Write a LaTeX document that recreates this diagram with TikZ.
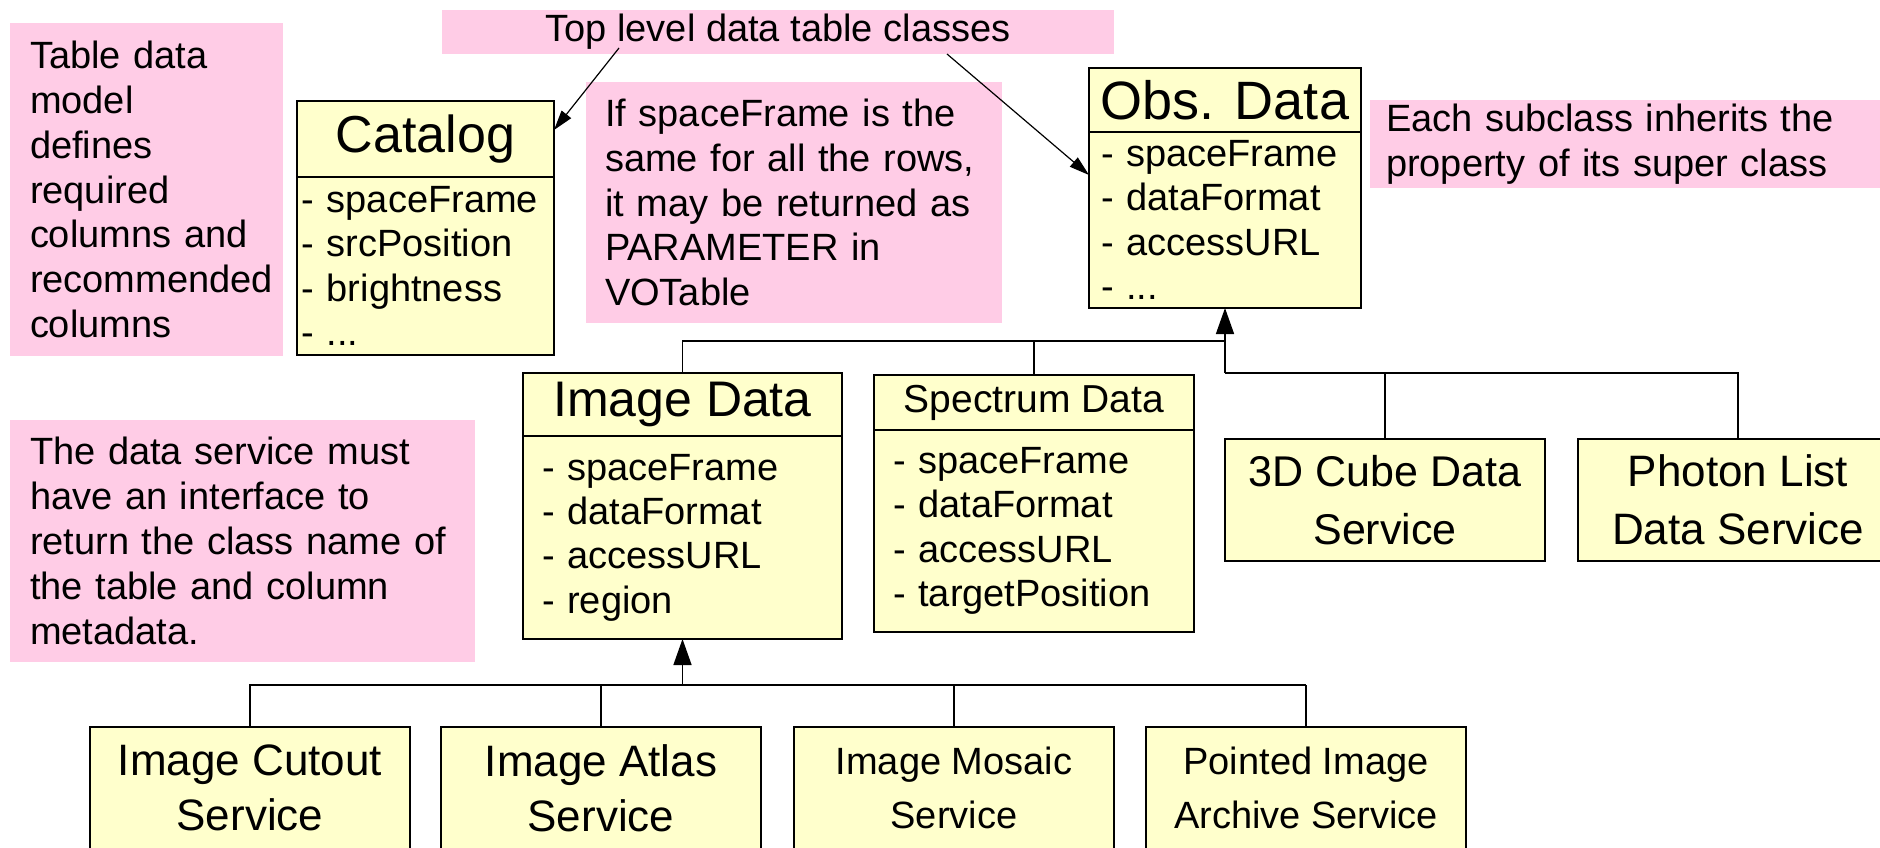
\documentclass[tikz,border=0pt]{standalone}
\usepackage{fontspec}
\setmainfont{Liberation Sans}
\usetikzlibrary{positioning,arrows.meta}

\definecolor{notepink}{RGB}{255,204,230}
\definecolor{classyellow}{RGB}{255,255,204}

\begin{document}
\begin{tikzpicture}[x=0.5pt,y=-0.5pt,>={Triangle[length=13pt,width=9pt]},
  note/.style={fill=notepink,anchor=north west,inner ysep=0pt,outer sep=0pt,align=left,font=\fontsize{19}{22.4}\selectfont},
  head/.style={draw,line width=0.9pt,fill=classyellow,anchor=north west,inner sep=0pt,outer sep=0pt,align=center},
  body/.style={draw,line width=0.9pt,fill=classyellow,inner ysep=0pt,outer sep=0pt,align=left,font=\fontsize{19}{22.2}\selectfont},
  service/.style={draw,line width=0.9pt,fill=classyellow,anchor=north west,inner sep=0pt,outer sep=0pt,align=center,minimum width=160pt,minimum height=61pt},
  link/.style={line width=0.75pt},
  pointer/.style={line width=0.6pt,-{Triangle[length=10pt,width=6pt]}}]
  \useasboundingbox (0,0) rectangle (1880,847);

  % notes
  \node[note,text width=116.5pt,inner xsep=10pt,minimum height=166.5pt] (model) at (10,23)
    {Table data\\model\\defines\\required\\columns and\\recommended\\columns};
  \node[note,align=center,inner sep=0pt,minimum width=336pt,minimum height=22pt] (toplevel) at (442,10)
    {Top level data table classes};
  \node[note,text width=189pt,inner xsep=9.5pt,minimum height=120.5pt] (param) at (586,82)
    {If spaceFrame is the\\same for all the rows,\\it may be returned as\\PARAMETER in\\VOTable};
  \node[note,text width=247pt,inner xsep=8pt,minimum height=44pt] (inherit) at (1370,100)
    {Each subclass inherits the\\property of its super class};
  \node[note,text width=212.5pt,inner xsep=10pt,minimum height=121pt] (iface) at (10,420)
    {The data service must\\have an interface to\\return the class name of\\the table and column\\metadata.};

  % top level classes
  \node[head,minimum width=128.5pt,minimum height=38pt,font=\fontsize{26}{30}\selectfont] (cathead) at (297,101) {Catalog};
  \node[body,below=0pt of cathead,text width=124pt,inner xsep=2.25pt,minimum height=89pt] (catbody)
    {- spaceFrame\\- srcPosition\\- brightness\\- ...};
  \node[head,minimum width=136pt,minimum height=32pt,font=\fontsize{27}{30}\selectfont] (obshead) at (1089,68) {Obs. Data};
  \node[body,below=0pt of obshead,text width=124pt,inner xsep=6pt,minimum height=88pt] (obsbody)
    {- spaceFrame\\- dataFormat\\- accessURL\\- ...};

  % subclasses
  \node[head,minimum width=159.5pt,minimum height=31.5pt,font=\fontsize{25}{30}\selectfont] (imghead) at (523,373) {Image Data};
  \node[body,below=0pt of imghead,text width=140.5pt,inner xsep=9.5pt,minimum height=101.5pt] (imgbody)
    {- spaceFrame\\- dataFormat\\- accessURL\\- region};
  \node[head,minimum width=160pt,minimum height=27.5pt,font=\fontsize{19.5}{24}\selectfont] (spechead) at (874,375) {Spectrum Data};
  \node[body,below=0pt of spechead,text width=141pt,inner xsep=9.5pt,minimum height=101pt] (specbody)
    {- spaceFrame\\- dataFormat\\- accessURL\\- targetPosition};
  \node[service,font=\fontsize{21.5}{28.8}\selectfont] (cube) at (1225,439) {3D Cube Data\\Service};
  \node[service,font=\fontsize{22}{28.8}\selectfont] (photon) at (1578,439) {Photon List\\Data Service};

  % image services
  \node[service,font=\fontsize{22}{27.6}\selectfont] (cutout) at (90,727) {Image Cutout\\Service};
  \node[service,font=\fontsize{22}{27.6}\selectfont] (atlas) at (441,727) {Image Atlas\\Service};
  \node[service,font=\fontsize{19}{27}\selectfont] (mosaic) at (794,727) {Image Mosaic\\Service};
  \node[service,font=\fontsize{19}{27}\selectfont] (pointed) at (1146,727) {Pointed Image\\Archive Service};

  % inheritance
  \draw[link] (imghead.north) |- (obsbody.south |- 0,341);
  \draw[link] (spechead.north) -- (spechead.north |- 0,341);
  \draw[link] (photon.north) |- (obsbody.south |- 0,373);
  \draw[link] (cube.north) -- (cube.north |- 0,373);
  \draw[link,->] (obsbody.south |- 0,373) -- (obsbody.south);

  \draw[link] (cutout.north) |- (pointed.north |- 0,685);
  \draw[link] (atlas.north) -- (atlas.north |- 0,685);
  \draw[link] (mosaic.north) -- (mosaic.north |- 0,685);
  \draw[link] (pointed.north) -- (pointed.north |- 0,685);
  \draw[link,->] (imgbody.south |- 0,685) -- (imgbody.south);

  % pointers from the title
  \coordinate (lvl) at (619,48);
  \coordinate (cls) at (947,54);
  \draw[pointer] (lvl) -- ([yshift=4.5pt]cathead.east);
  \draw[pointer] (cls) -- ([yshift=-21.5pt]obsbody.north west);
\end{tikzpicture}
\end{document}
